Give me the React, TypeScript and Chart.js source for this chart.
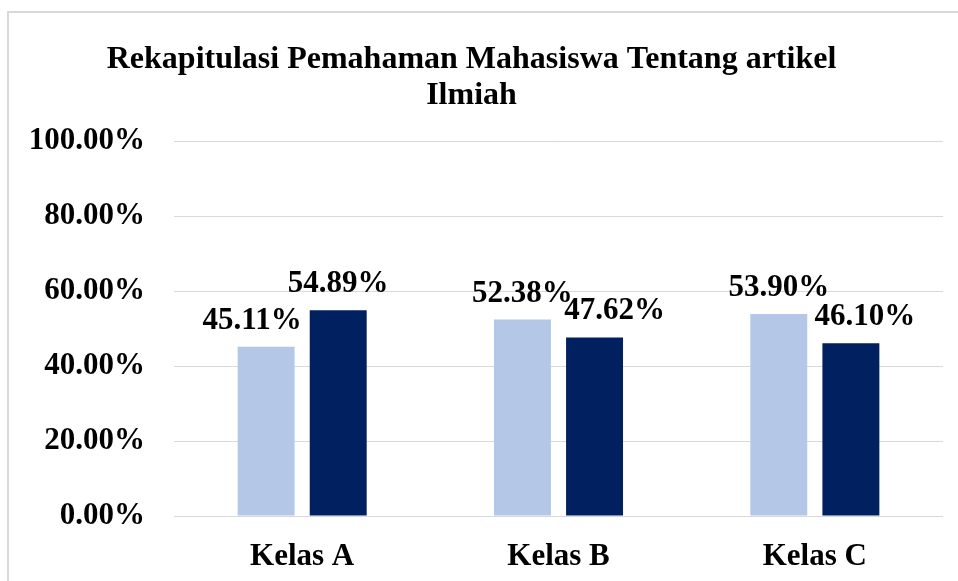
import React, { useEffect, useRef } from "react";
import { Chart, registerables } from "chart.js";

Chart.register(...registerables);

const categories = ["Kelas A", "Kelas B", "Kelas C"];
const seriesLight = [45.11, 52.38, 53.9];
const seriesDark = [54.89, 47.62, 46.1];
const yTicks = [0, 20, 40, 60, 80, 100];
const titleLines = ["Rekapitulasi Pemahaman Mahasiswa Tentang artikel", "Ilmiah"];

// small horizontal nudges of the value labels (as placed in the original)
const labelNudge = [
  [-14, 0, 0],
  [0, 20, 14],
];

const FONT = "'Liberation Serif', 'Times New Roman', serif";

const valueLabels = {
  id: "valueLabels",
  afterDatasetsDraw(chart: any) {
    const ctx = chart.ctx;
    ctx.save();
    ctx.font = `bold 31px ${FONT}`;
    ctx.fillStyle = "#000000";
    ctx.textAlign = "center";
    ctx.textBaseline = "alphabetic";
    chart.data.datasets.forEach((ds: any, di: number) => {
      const meta = chart.getDatasetMeta(di);
      meta.data.forEach((bar: any, i: number) => {
        const v = ds.data[i] as number;
        const dx = (labelNudge[di] && labelNudge[di][i]) || 0;
        ctx.fillText(v.toFixed(2) + "%", bar.x + dx, bar.y - 18);
      });
    });
    ctx.restore();
  },
};

export default function App() {
  const ref = useRef<HTMLCanvasElement>(null);
  useEffect(() => {
    if (!ref.current) return;
    const chart = new Chart(ref.current, {
      type: "bar",
      data: {
        labels: categories,
        datasets: [
          {
            label: "Series 1",
            data: seriesLight,
            backgroundColor: "#B4C7E7",
            categoryPercentage: 0.5625,
            barPercentage: 0.79,
          },
          {
            label: "Series 2",
            data: seriesDark,
            backgroundColor: "#002060",
            categoryPercentage: 0.5625,
            barPercentage: 0.79,
          },
        ],
      },
      options: {
        animation: false,
        responsive: false,
        maintainAspectRatio: false,
        layout: { padding: { left: 0, right: 15, top: 0, bottom: 10 } },
        plugins: {
          legend: { display: false },
          tooltip: { enabled: false },
          title: {
            display: true,
            text: titleLines,
            color: "#000000",
            font: { family: FONT, size: 32, weight: "bold", lineHeight: 1.125 },
            padding: { top: 42, bottom: 27 },
          },
        },
        scales: {
          x: {
            afterFit(scale: any) {
              scale.height = 55;
            },
            grid: { display: false, drawTicks: false },
            border: { display: false },
            ticks: {
              color: "#000000",
              padding: 22,
              font: { family: FONT, size: 31, weight: "bold", lineHeight: 1.2 },
            },
          },
          y: {
            min: 0,
            max: 100,
            afterBuildTicks(scale: any) {
              scale.ticks = yTicks.map((v) => ({ value: v }));
            },
            afterFit(scale: any) {
              scale.width = 174;
            },
            grid: { color: "#D9D9D9", lineWidth: 1, drawTicks: false },
            border: { display: false },
            ticks: {
              color: "#000000",
              padding: 29,
              font: { family: FONT, size: 31, weight: "bold" },
              callback: (v: any) => Number(v).toFixed(2) + "%",
            },
          },
        },
      },
      plugins: [valueLabels],
    } as any);
    return () => chart.destroy();
  }, []);

  return (
    <div
      style={{
        position: "fixed",
        left: 0,
        top: 0,
        width: 958,
        height: 581,
        overflow: "hidden",
        background: "#ffffff",
      }}
    >
      <div
        style={{
          position: "absolute",
          left: 7,
          top: 11,
          width: 1000,
          height: 700,
          border: "2px solid #D9D9D9",
          boxSizing: "border-box",
        }}
      />
      <canvas
        ref={ref}
        width={958}
        height={581}
        style={{ position: "absolute", left: 0, top: 0, width: 958, height: 581 }}
      />
    </div>
  );
}
